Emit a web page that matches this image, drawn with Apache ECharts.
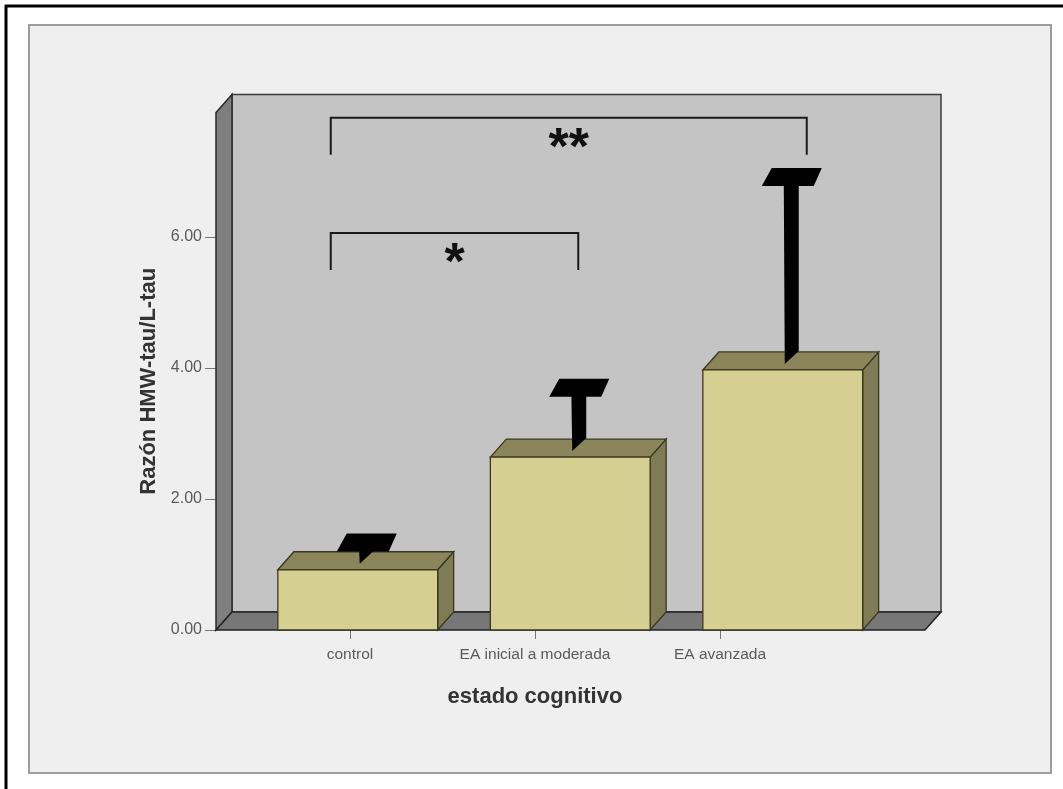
<!DOCTYPE html>
<html>
<head>
<meta charset="utf-8">
<script src="https://cdn.jsdelivr.net/npm/echarts@6/dist/echarts.min.js"></script>
<style>
    html, body { margin: 0; background: #fff; }
    #chart { width: 1063px; height: 789px; }
</style>
</head>
<body>
<div id="chart"></div>
<script>
// data
var categories = ['control', 'EA inicial a moderada', 'EA avanzada']
var means = [0.92, 2.64, 3.97]
var errorTops = [1.20, 3.56, 6.78]
var yTicks = [0, 2, 4, 6]
var bracketFrom = [0, 0]
var bracketTo = [1, 2]
var bracketLevels = [6.06, 7.82]
var bracketLabels = ['*', '**']

// look
var DX = 16, DY = -18 // 3d depth offset
var Y_MAX = 7.9
var FRONT = '#d6cf92', TOPC = '#8a855a', SIDE = '#7f7b55', EDGE = '#3b3820'
var bracketPad = [[-27, 8], [-27, 24]]
var labelColor = '#5a5a5a'
var fontFam = '"Liberation Sans", Arial, sans-serif'

function renderWalls(params, api) {
    var c = params.coordSys
    var x = c.x, y = c.y, w = c.width, h = c.height
    return {
        type: 'group',
        children: [
            { type: 'polygon', shape: { points: [[x + DX, y + DY], [x + w + DX, y + DY], [x + w + DX, y + h + DY], [x + DX, y + h + DY]] },
              style: { fill: '#c4c4c4', stroke: '#3a3a3a', lineWidth: 1.5 } },
            { type: 'polygon', shape: { points: [[x, y], [x + DX, y + DY], [x + DX, y + h + DY], [x, y + h]] },
              style: { fill: '#7e7e7e', stroke: '#2a2a2a', lineWidth: 1.5 } },
            { type: 'polygon', shape: { points: [[x, y + h], [x + DX, y + h + DY], [x + w + DX, y + h + DY], [x + w, y + h]] },
              style: { fill: '#777777', stroke: '#222', lineWidth: 1.5 } }
        ]
    }
}

function renderBar(params, api) {
    var i = api.value(0)
    var top = api.coord([i, api.value(1)])
    var base = api.coord([i, 0])
    var half = api.size([1, 0])[0] * 0.376
    var l = top[0] - half, r = top[0] + half
    var st = { stroke: EDGE, lineWidth: 1.3 }
    return {
        type: 'group',
        children: [
            { type: 'polygon', shape: { points: [[r, top[1]], [r + DX, top[1] + DY], [r + DX, base[1] + DY], [r, base[1]]] },
              style: Object.assign({ fill: SIDE }, st) },
            { type: 'polygon', shape: { points: [[l, top[1]], [l + DX, top[1] + DY], [r + DX, top[1] + DY], [r, top[1]]] },
              style: Object.assign({ fill: TOPC }, st) },
            { type: 'rect', shape: { x: l, y: top[1], width: r - l, height: base[1] - top[1] },
              style: Object.assign({ fill: FRONT }, st) }
        ]
    }
}

function renderError(params, api) {
    var i = api.value(0)
    var m = api.coord([i, api.value(1)])
    var t = api.coord([i, api.value(2)])
    var cx = m[0] + DX / 2, my = m[1] + DY / 2, ty = t[1] + DY / 2
    return {
        type: 'group',
        children: [
            { type: 'polygon', shape: { points: [[cx - 7, ty], [cx + 8, ty], [cx + 8, my - 10], [cx - 6, my + 3]] },
              style: { fill: '#000' } },
            { type: 'polygon', shape: { points: [[cx - 29, ty + 9], [cx + 23, ty + 9], [cx + 31, ty - 9], [cx - 19, ty - 9]] },
              style: { fill: '#000' } }
        ]
    }
}

function renderBracket(params, api) {
    var k = params.dataIndex
    var a = api.coord([api.value(0), api.value(2)])
    var b = api.coord([api.value(1), api.value(2)])
    var x1 = a[0] + bracketPad[k][0], x2 = b[0] + bracketPad[k][1], y = a[1]
    return {
        type: 'group',
        children: [
            { type: 'polyline', shape: { points: [[x1, y + 37], [x1, y], [x2, y], [x2, y + 37]] },
              style: { stroke: '#1a1a1a', lineWidth: 2, fill: null } },
            { type: 'text', style: { text: bracketLabels[k], x: (x1 + x2) / 2, y: y + 6, align: 'center', verticalAlign: 'top',
              font: 'bold 52px ' + fontFam, fill: '#111' } }
        ]
    }
}

var vert = { top: 630 - Y_MAX * 65.5, bottom: 159 }

var option = {
    backgroundColor: '#fff',
    animation: false,
    graphic: {
        elements: [
            { type: 'rect', z: -10, shape: { x: 29, y: 25, width: 1022, height: 748 }, style: { fill: '#efefef', stroke: '#9c9c9c', lineWidth: 2 } },
            { type: 'line', z: -10, shape: { x1: 5, y1: 6, x2: 1063, y2: 6 }, style: { stroke: '#000', lineWidth: 3 } },
            { type: 'line', z: -10, shape: { x1: 6, y1: 5, x2: 6, y2: 789 }, style: { stroke: '#000', lineWidth: 3 } }
        ]
    },
    grid: [
        { left: 216, right: 138, top: vert.top, bottom: vert.bottom },
        { left: 251.5, right: 174, top: vert.top, bottom: vert.bottom },
        { left: 257.5, right: 250.5, top: vert.top, bottom: vert.bottom }
    ],
    xAxis: [
        { gridIndex: 0, type: 'value', min: 0, max: 1, show: false },
        { gridIndex: 1, type: 'category', data: categories, show: false },
        {
            gridIndex: 2,
            type: 'category',
            data: categories,
            name: 'estado cognitivo',
            nameLocation: 'middle',
            nameGap: 56,
            nameTextStyle: { fontFamily: fontFam, fontWeight: 'bold', fontSize: 22, color: '#333' },
            axisLine: { show: false },
            axisTick: { show: true, interval: 0, alignWithLabel: true, length: 9, lineStyle: { color: '#777' } },
            axisLabel: { interval: 0, hideOverlap: false, margin: 17, fontFamily: fontFam, fontSize: 15.5, color: labelColor }
        }
    ],
    yAxis: [
        {
            gridIndex: 0,
            type: 'value',
            min: 0,
            max: Y_MAX,
            name: 'Razón HMW-tau/L-tau',
            nameLocation: 'middle',
            nameGap: 56,
            nameTextStyle: { fontFamily: fontFam, fontWeight: 'bold', fontSize: 22, color: '#333', padding: [0, 20, 0, 0] },
            axisLine: { show: false },
            splitLine: { show: false },
            axisTick: { show: true, length: 11, customValues: yTicks, lineStyle: { color: '#777' } },
            axisLabel: { customValues: yTicks, margin: 14, fontFamily: fontFam, fontSize: 16, color: labelColor,
                formatter: function (v) { return v.toFixed(2) } }
        },
        { gridIndex: 1, type: 'value', min: 0, max: Y_MAX, show: false },
        { gridIndex: 2, type: 'value', min: 0, max: Y_MAX, show: false }
    ],
    series: [
        { type: 'custom', xAxisIndex: 0, yAxisIndex: 0, z: 1, renderItem: renderWalls, data: [[0, 0]], silent: true },
        { type: 'custom', xAxisIndex: 1, yAxisIndex: 1, z: 2, renderItem: renderBar, encode: { x: 0, y: 1 },
          data: means.map(function (v, i) { return [i, v] }) },
        { type: 'custom', xAxisIndex: 1, yAxisIndex: 1, z: 3, renderItem: renderError, encode: { x: 0, y: [1, 2] },
          data: means.map(function (v, i) { return [i, v, errorTops[i]] }) },
        { type: 'custom', xAxisIndex: 1, yAxisIndex: 1, z: 4, renderItem: renderBracket, encode: { x: [0, 1], y: 2 },
          data: bracketLevels.map(function (v, k) { return [bracketFrom[k], bracketTo[k], v] }) }
    ]
}

var myChart = echarts.init(document.getElementById('chart'))
myChart.setOption(option)
</script>
</body>
</html>
